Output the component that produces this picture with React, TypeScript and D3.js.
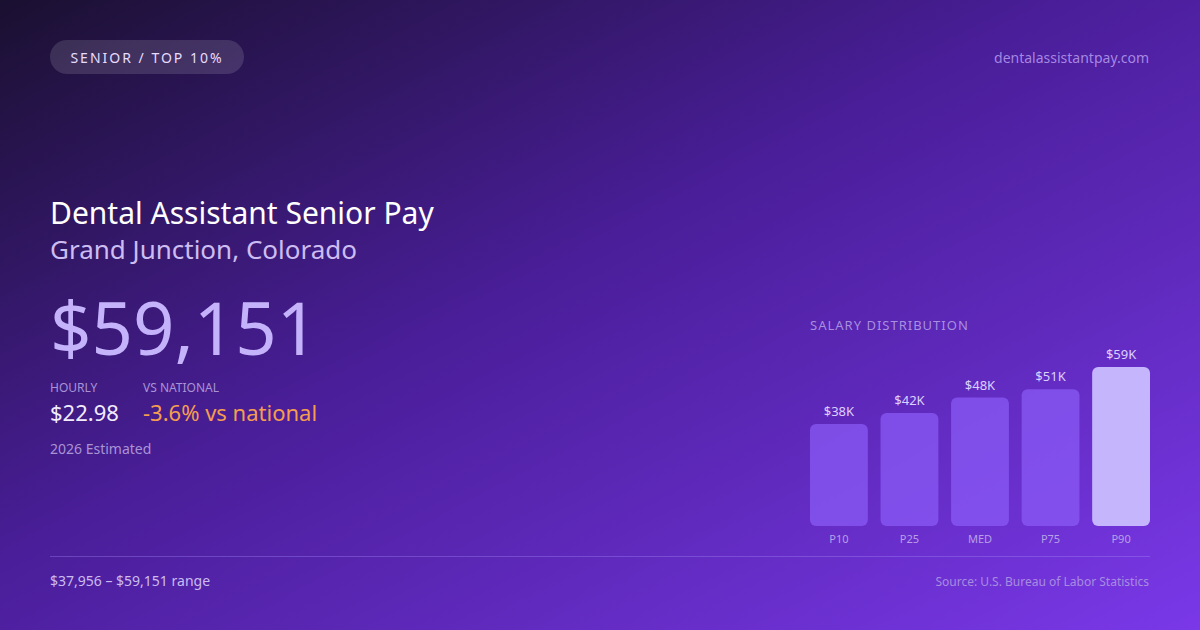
import React from "react";
import * as d3 from "d3";

const categories = ["P10", "P25", "MED", "P75", "P90"];
const salaries = [37956, 42000, 47800, 50900, 59151];
const valueLabels = ["$38K", "$42K", "$48K", "$51K", "$59K"];

const W = 1200;
const H = 630;
const FONT = "'Noto Sans', 'Open Sans', sans-serif";

export default function App() {
  const x = d3
    .scaleBand<string>()
    .domain(categories)
    .range([810, 1150])
    .paddingInner(0.18)
    .paddingOuter(0);
  const y = d3.scaleLinear().domain([0, 59151]).range([526, 367]);

  return (
    <div style={{ position: "absolute", left: 0, top: 0, width: W, height: H }}>
      <svg width={W} height={H} style={{ display: "block" }} fontFamily={FONT}>
        <defs>
          <linearGradient id="bg" x1="0" y1="0" x2="1" y2="1" gradientUnits="objectBoundingBox">
            <stop offset="0" stopColor="#1a1030" />
            <stop offset="0.45" stopColor="#4a1e9a" />
            <stop offset="1" stopColor="#7a38e8" />
          </linearGradient>
        </defs>
        <rect x={0} y={0} width={W} height={H} fill="url(#bg)" />

        {/* badge */}
        <rect x={50} y={40} width={194} height={34} rx={17} fill="#ffffff" fillOpacity={0.13} />
        <text x={147} y={62.5} textAnchor="middle" fontSize={14} letterSpacing={2} fill="#e6dcff">
          SENIOR / TOP 10%
        </text>
        <text x={1149} y={63} textAnchor="end" fontSize={14} fill="#b79cf0" fillOpacity={0.85}>
          dentalassistantpay.com
        </text>

        {/* title block */}
        <text x={50} y={224} fontSize={30} fill="#ffffff">
          Dental Assistant Senior Pay
        </text>
        <text x={50} y={259} fontSize={26} fill="#cdbdf2">
          Grand Junction, Colorado
        </text>
        <text x={50} y={355} fontSize={72.5} fill="#c4b2fb">
          $59,151
        </text>

        <text x={50} y={392} fontSize={12} fill="#a993d6">HOURLY</text>
        <text x={143} y={392} fontSize={12} fill="#a993d6">VS NATIONAL</text>
        <text x={50} y={421} fontSize={22} fill="#f2ecff">$22.98</text>
        <text x={143} y={421} fontSize={22} fill="#f59e4e">-3.6% vs national</text>
        <text x={50} y={454} fontSize={14} fill="#a993d6">2026 Estimated</text>

        {/* chart */}
        <text x={810} y={330} fontSize={13} letterSpacing={1} fill="#b9a2ea" fillOpacity={0.85}>
          SALARY DISTRIBUTION
        </text>
        {categories.map((c, i) => {
          const bx = x(c)!;
          const by = y(salaries[i]);
          const last = i === categories.length - 1;
          return (
            <g key={c}>
              <rect
                x={bx}
                y={by}
                width={x.bandwidth()}
                height={y(0) - by}
                rx={6}
                fill={last ? "#c4b5fd" : "#8b5cf6"}
                fillOpacity={last ? 1 : 0.72}
              />
              <text x={bx + x.bandwidth() / 2} y={by - 8} textAnchor="middle" fontSize={13} fill="#ddd0ff">
                {valueLabels[i]}
              </text>
              <text x={bx + x.bandwidth() / 2} y={543} textAnchor="middle" fontSize={11} fill="#b7a0e8">
                {c}
              </text>
            </g>
          );
        })}

        {/* footer */}
        <line x1={50} x2={1150} y1={556.5} y2={556.5} stroke="#a78bfa" strokeOpacity={0.35} strokeWidth={1} />
        <text x={50} y={586} fontSize={14} fill="#cbbcf0">
          $37,956 – $59,151 range
        </text>
        <text x={1149} y={586} textAnchor="end" fontSize={12} fill="#a88ce0">
          Source: U.S. Bureau of Labor Statistics
        </text>
      </svg>
    </div>
  );
}
